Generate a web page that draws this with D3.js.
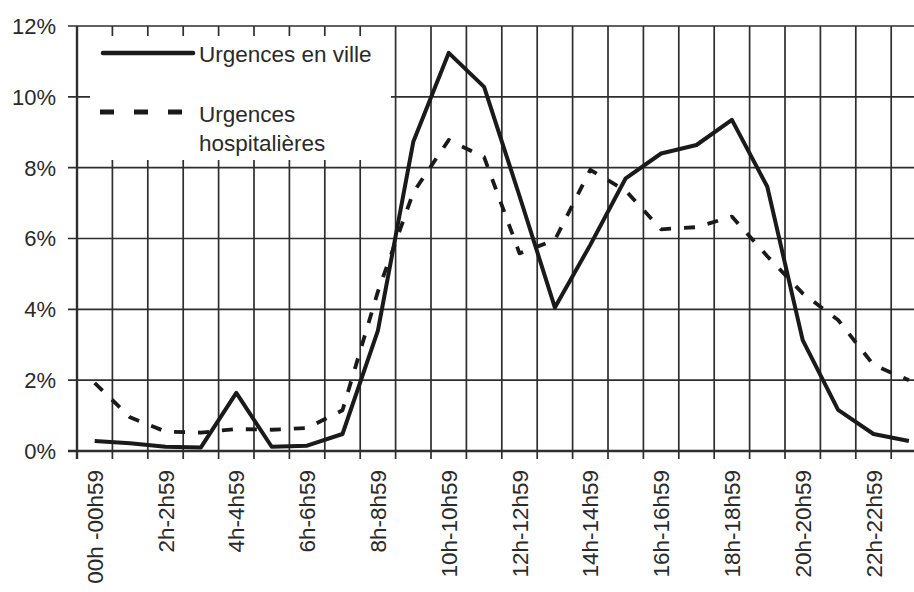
<!DOCTYPE html>
<html>
<head>
<meta charset="utf-8">
<script src="https://cdn.jsdelivr.net/npm/d3@7/dist/d3.min.js"></script>
<style>
  html, body { margin: 0; padding: 0; background: #fff; }
  svg { display: block; font-family: "Liberation Sans", Arial, sans-serif; }
</style>
</head>
<body>
<svg id="chart" width="914" height="592"></svg>
<script>
// ---- data ----
const hours = ["00h -00h59","1h-1h59","2h-2h59","3h-3h59","4h-4h59","5h-5h59","6h-6h59","7h-7h59",
  "8h-8h59","9h-9h59","10h-10h59","11h-11h59","12h-12h59","13h-13h59","14h-14h59","15h-15h59",
  "16h-16h59","17h-17h59","18h-18h59","19h-19h59","20h-20h59","21h-21h59","22h-22h59","23h-23h59"];
const shownLabels = ["00h -00h59","2h-2h59","4h-4h59","6h-6h59","8h-8h59","10h-10h59",
  "12h-12h59","14h-14h59","16h-16h59","18h-18h59","20h-20h59","22h-22h59"];
const villeValues = [0.28,0.22,0.12,0.1,1.64,0.12,0.15,0.48,3.4,8.73,11.24,10.28,
  7.2,4.05,5.82,7.7,8.4,8.64,9.35,7.46,3.13,1.16,0.48,0.28];
const hospValues = [1.92,0.95,0.55,0.52,0.62,0.6,0.65,1.15,4.5,7.3,8.78,8.3,
  5.58,5.96,7.94,7.35,6.26,6.32,6.62,5.5,4.45,3.7,2.43,2.0];
const yTicks = [0,2,4,6,8,10,12];
const seriesNames = ["Urgences en ville", ["Urgences", "hospitalières"]];

(function () {
// ---- layout ----
const svg = d3.select("#chart");
const mLeft = 77, mTop = 26, mBottom = 451, bandW = 35.4;
const mRight = mLeft + bandW * hours.length;

const x = d3.scaleBand().domain(hours).range([mLeft, mRight]).paddingInner(0).paddingOuter(0);
const y = d3.scaleLinear().domain([0, 12]).range([mBottom, mTop]);
const gridColor = "#2e2e2e";
const textColor = "#2a2a2a";
const lineColor = "#1a1a1a";

// horizontal gridlines + y ticks
svg.append("g").selectAll("line").data(yTicks).join("line")
  .attr("x1", mLeft - 9).attr("x2", mRight)
  .attr("y1", d => y(d)).attr("y2", d => y(d))
  .attr("stroke", gridColor).attr("stroke-width", d => d === 0 ? 2.4 : 1.7);

// vertical gridlines (band boundaries) + x ticks
const bounds = hours.map(h => x(h)).concat([mRight]);
svg.append("g").selectAll("line").data(bounds).join("line")
  .attr("x1", d => d).attr("x2", d => d)
  .attr("y1", mTop).attr("y2", mBottom + 8)
  .attr("stroke", gridColor).attr("stroke-width", (d, i) => i === 0 ? 2.4 : 1.7);

// legend background box (hides grid)
svg.append("rect").attr("x", mLeft + 13).attr("y", mTop + 10)
  .attr("width", 301).attr("height", 124).attr("fill", "#fff");

// y tick labels
svg.append("g").selectAll("text").data(yTicks).join("text")
  .attr("x", 56).attr("y", d => y(d)).attr("dy", "0.36em")
  .attr("text-anchor", "end").attr("font-size", 22).attr("fill", textColor)
  .text(d => d + "%");

// x tick labels
svg.append("g").selectAll("text").data(shownLabels).join("text")
  .attr("transform", d => `translate(${x(d) + x.bandwidth() / 2},470) rotate(-90)`)
  .attr("dy", "0.36em").attr("text-anchor", "end")
  .attr("font-size", 22.5).attr("fill", textColor)
  .text(d => d);

// lines
const line = d3.line()
  .x((d, i) => x(hours[i]) + x.bandwidth() / 2)
  .y(d => y(d));

svg.append("path").datum(hospValues).attr("d", line)
  .attr("fill", "none").attr("stroke", lineColor).attr("stroke-width", 3.8)
  .attr("stroke-dasharray", "11,13").attr("stroke-linejoin", "round");

svg.append("path").datum(villeValues).attr("d", line)
  .attr("fill", "none").attr("stroke", lineColor).attr("stroke-width", 4)
  .attr("stroke-linejoin", "round");

// legend
const lg = svg.append("g");
lg.append("line").attr("x1", 103).attr("x2", 193).attr("y1", 53).attr("y2", 53)
  .attr("stroke", lineColor).attr("stroke-width", 4.5).attr("stroke-linecap", "round");
lg.append("text").attr("x", 199).attr("y", 62).attr("font-size", 22.5).attr("fill", textColor)
  .text(seriesNames[0]);
lg.append("line").attr("x1", 100).attr("x2", 182).attr("y1", 112).attr("y2", 112)
  .attr("stroke", lineColor).attr("stroke-width", 5).attr("stroke-dasharray", "14,20");
const t2 = lg.append("text").attr("x", 199).attr("y", 122).attr("font-size", 22.5).attr("fill", textColor);
t2.append("tspan").attr("x", 199).text(seriesNames[1][0]);
t2.append("tspan").attr("x", 199).attr("dy", 29).text(seriesNames[1][1]);
})();
</script>
</body>
</html>
